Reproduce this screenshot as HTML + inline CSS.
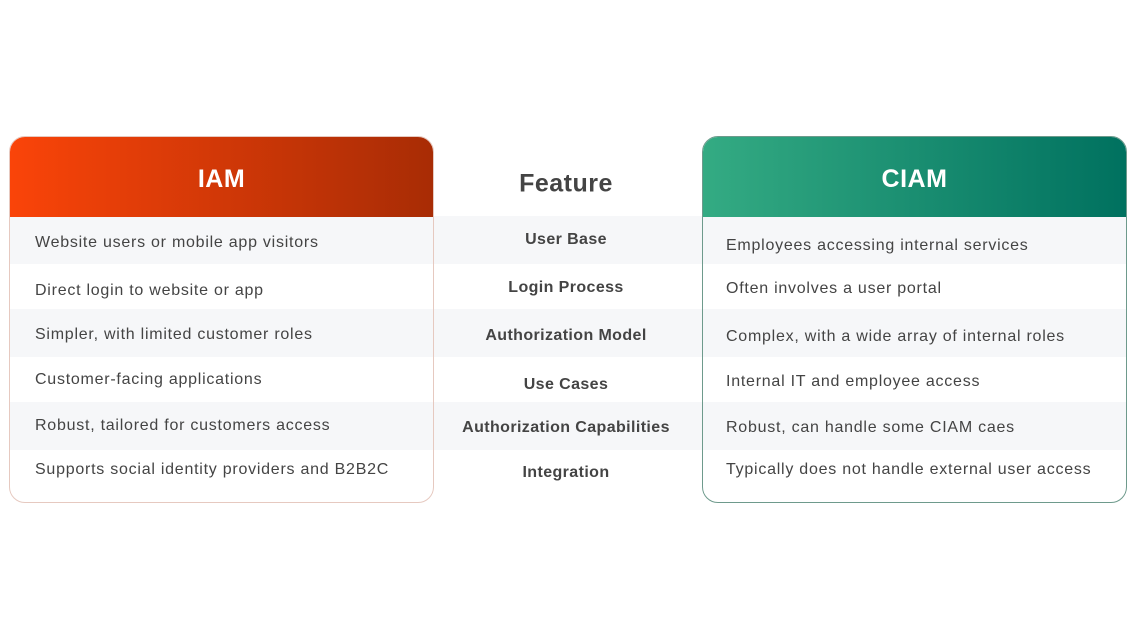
<!DOCTYPE html>
<html><head><style>
body{margin:0;width:1136px;height:639px;background:#fff;position:relative;font-family:"Liberation Sans",sans-serif;overflow:hidden}
.band{position:absolute;left:9px;width:1118px;background:#f6f7f9}
.card{position:absolute;top:136px;width:425px;height:367px;border-radius:16px;overflow:hidden;box-sizing:border-box}
.hd{position:absolute;left:0;top:0;width:100%;height:80px;color:#fff;font-weight:bold;font-size:25px;text-align:center;line-height:84px;letter-spacing:0.5px}
.t{position:absolute;font-size:16px;color:#444;white-space:nowrap;transform:translateY(-50%);letter-spacing:0.75px;margin-top:2px}
.c{position:absolute;font-size:16px;color:#444;font-weight:bold;white-space:nowrap;transform:translate(-50%,-50%);letter-spacing:0.4px;margin-top:2px}
</style></head><body>
<div class="band" style="top:216px;height:48px"></div>
<div class="band" style="top:309px;height:48px"></div>
<div class="band" style="top:402px;height:48px"></div>
<div class="card" style="left:9px;border:1px solid #e6c9c0">
 <div class="hd" style="background:linear-gradient(90deg,#fa4409,#a82c05)">IAM</div></div>
<div class="card" style="left:702px;border:1.5px solid #6e9a8c">
 <div class="hd" style="background:linear-gradient(90deg,#34ab83,#00715f)">CIAM</div></div>
<div class="c" style="left:566px;top:182px;font-size:25px;letter-spacing:0.5px">Feature</div>
<div class="t" style="left:35px;top:241px">Website users or mobile app visitors</div>
<div class="t" style="left:35px;top:289px">Direct login to website or app</div>
<div class="t" style="left:35px;top:333px">Simpler, with limited customer roles</div>
<div class="t" style="left:35px;top:378px">Customer-facing applications</div>
<div class="t" style="left:35px;top:424px">Robust, tailored for customers access</div>
<div class="t" style="left:35px;top:468px">Supports social identity providers and B2B2C</div>
<div class="c" style="left:566px;top:238px">User Base</div>
<div class="c" style="left:566px;top:286px">Login Process</div>
<div class="c" style="left:566px;top:334px">Authorization Model</div>
<div class="c" style="left:566px;top:383px">Use Cases</div>
<div class="c" style="left:566px;top:426px">Authorization Capabilities</div>
<div class="c" style="left:566px;top:471px">Integration</div>
<div class="t" style="left:726px;top:244px">Employees accessing internal services</div>
<div class="t" style="left:726px;top:287px">Often involves a user portal</div>
<div class="t" style="left:726px;top:335px">Complex, with a wide array of internal roles</div>
<div class="t" style="left:726px;top:380px">Internal IT and employee access</div>
<div class="t" style="left:726px;top:426px">Robust, can handle some CIAM caes</div>
<div class="t" style="left:726px;top:468px">Typically does not handle external user access</div>
</body></html>
